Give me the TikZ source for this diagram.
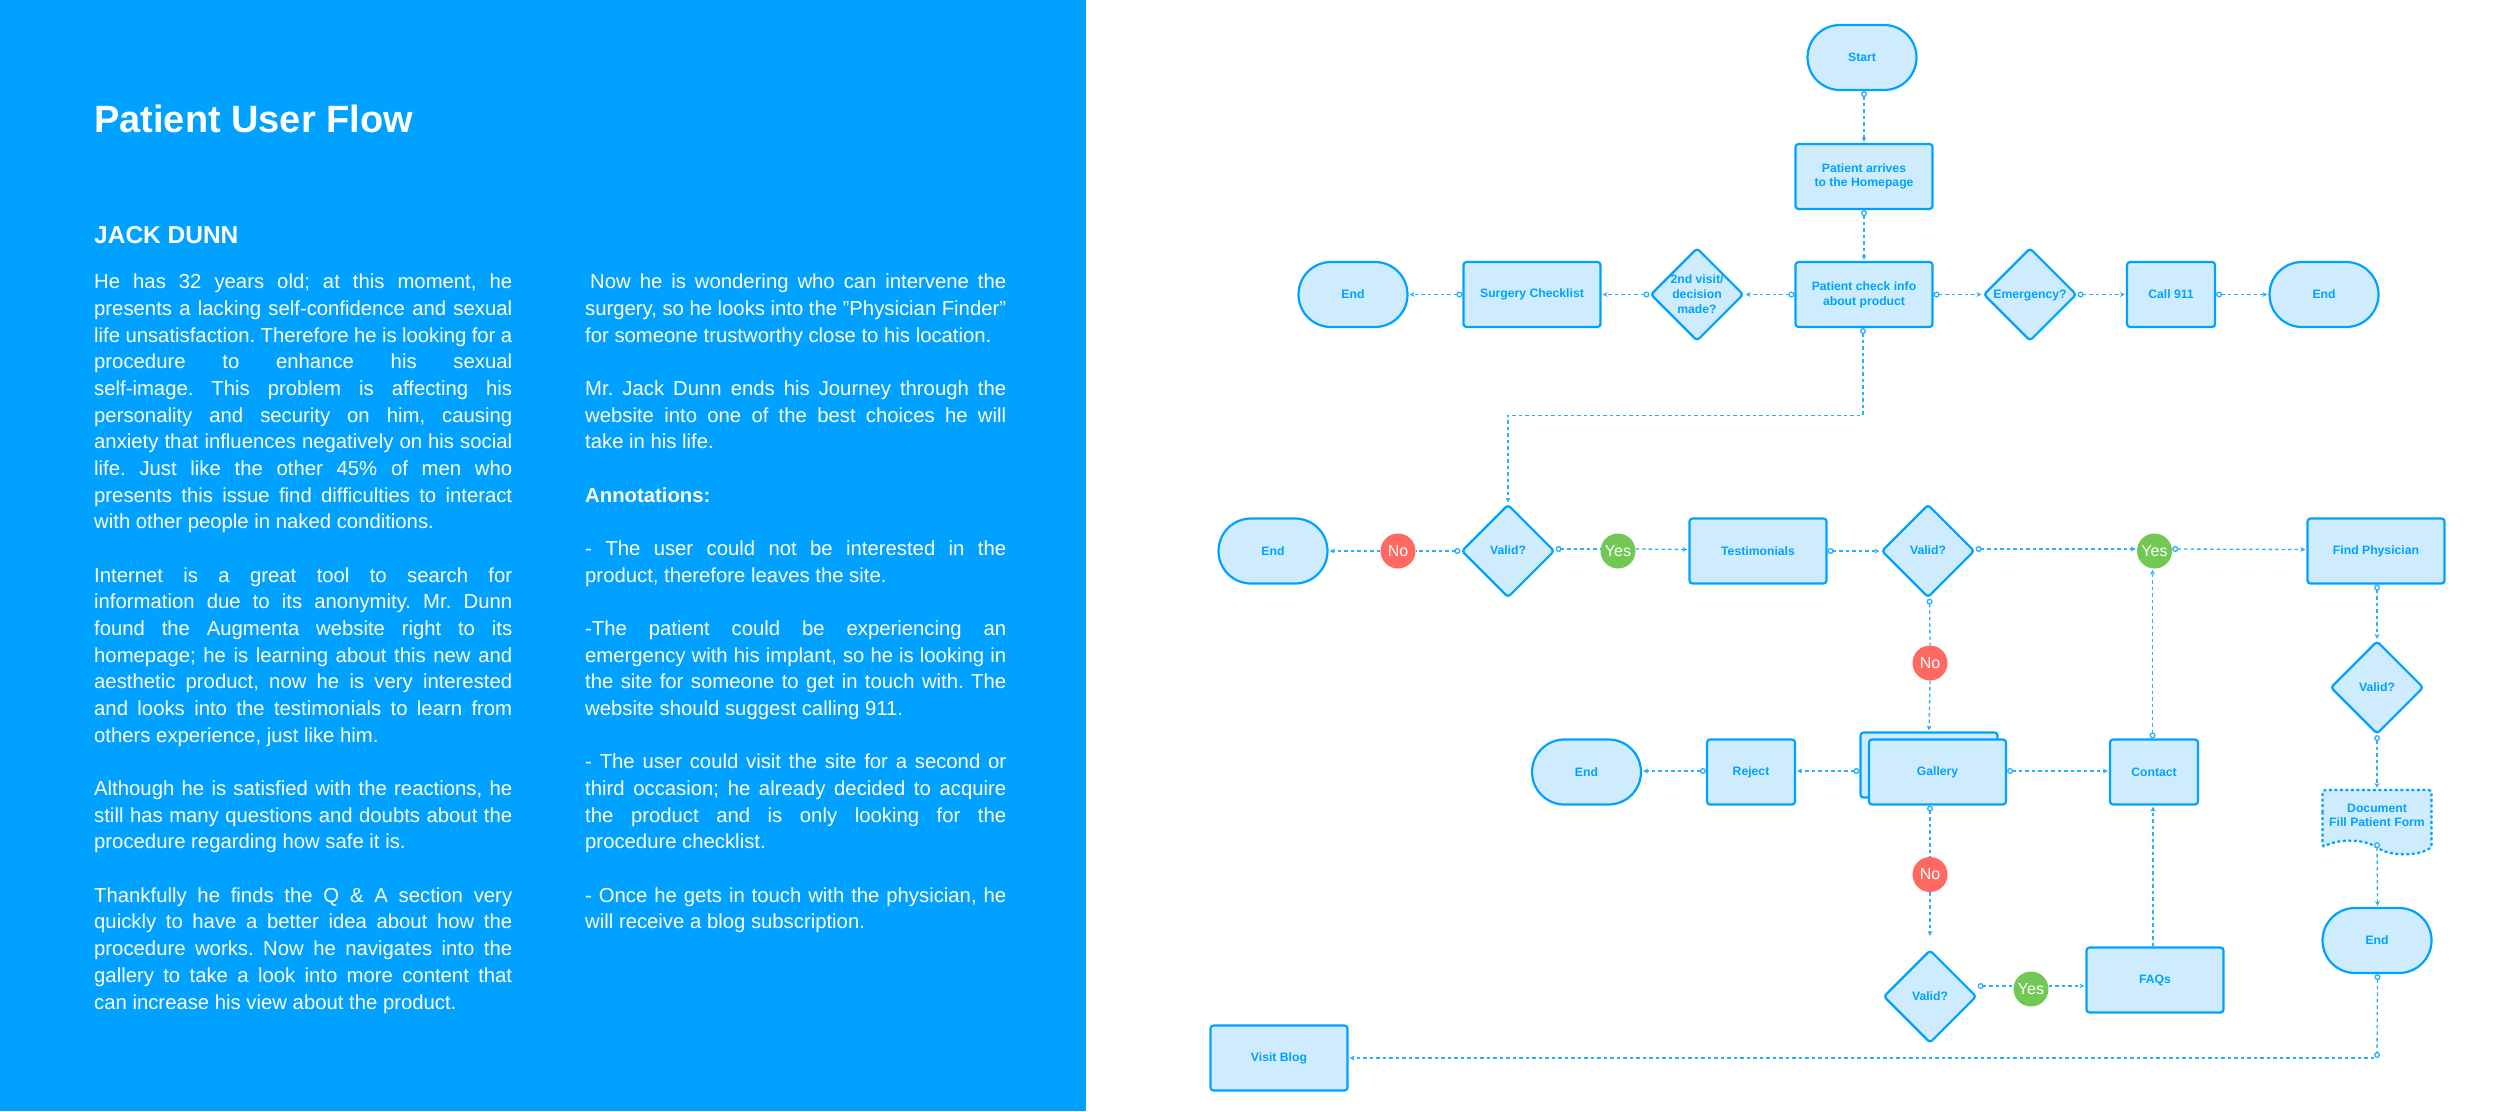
\documentclass[tikz,border=0pt]{standalone}
\usepackage{fontspec}
\setmainfont{Liberation Sans}
\usetikzlibrary{arrows.meta,shapes.geometric,shapes.misc,shapes.symbols}

\definecolor{panelblue}{HTML}{00A1FF}
\definecolor{flowblue}{HTML}{00A2FF}
\definecolor{flowline}{HTML}{2AAEFF}
\definecolor{flowfill}{HTML}{CFECFF}
\definecolor{nored}{HTML}{FF6961}
\definecolor{yesgreen}{HTML}{72C855}

\newcommand{\flowfont}{\fontsize{12.2}{14.7}\bfseries\selectfont}
\newcommand{\difftext}[1]{\makebox[0pt][c]{\raisebox{-4pt}[0pt][0pt]{\begin{tabular}[c]{@{}c@{}}#1\end{tabular}}}}
\newcommand{\paragap}{\par\vspace{26.67pt}}

\tikzstyle{process}=[rectangle, rounded corners = 3pt, draw = flowblue, line width = 2.2pt, fill = flowfill, text = flowblue, font = \flowfont, minimum width = 137pt, minimum height = 65pt, align = center, inner sep = 0pt]
\tikzstyle{smallprocess}=[process, minimum width = 88pt]
\tikzstyle{terminal}=[rounded rectangle, draw = flowblue, line width = 2.2pt, fill = flowfill, text = flowblue, font = \flowfont, minimum width = 109pt, minimum height = 65pt, inner sep = 0pt]
\tikzstyle{decision}=[diamond, aspect = 1, rounded corners = 3pt, draw = flowblue, line width = 2.2pt, fill = flowfill, text = flowblue, font = \flowfont, minimum width = 93pt, minimum height = 93pt, inner sep = 0pt]
\tikzstyle{document}=[tape, tape bend top = none, tape bend bottom = out and in, tape bend height = 13pt, rounded corners = 3pt, draw = flowblue, line width = 2.2pt, dash pattern = on 3pt off 2.5pt, fill = flowfill, text = flowblue, font = \flowfont, minimum width = 109pt, minimum height = 64pt, align = center, inner sep = 0pt]
\tikzstyle{answerno}=[circle, fill = nored, text = white, font = \fontsize{16}{16}\selectfont, minimum size = 35pt, inner sep = 0pt]
\tikzstyle{answeryes}=[answerno, fill = yesgreen]
\tikzstyle{flowline}=[line width = 1.3pt, draw = flowline, dash pattern = on 3.5pt off 3pt]
\tikzstyle{arrow1}=[flowline, {Circle[open, fill = white, length = 6pt, width = 6pt]}-{Stealth[length = 5pt, width = 5pt]}, shorten > = 1pt]
\tikzstyle{arrow2}=[flowline, -{Stealth[length = 5pt, width = 5pt]}, shorten > = 1pt]
\tikzstyle{arrow3}=[flowline, {Circle[open, fill = white, length = 6pt, width = 6pt]}-]
\tikzstyle{arrow4}=[flowline, {Circle[open, fill = white, length = 6pt, width = 6pt]}-{Circle[open, fill = white, length = 6pt, width = 6pt]}]
\tikzstyle{heading}=[text = white, font = \fontsize{38}{40}\bfseries\selectfont, anchor = base west, inner sep = 0pt]
\tikzstyle{subheading}=[heading, font = \fontsize{24.5}{26}\bfseries\selectfont]
\tikzstyle{bodytext}=[text = white, text width = 418pt, align = justify, anchor = north west, inner sep = 0pt, font = \fontsize{20.3}{26.67}\selectfont, execute at begin node = {\frenchspacing\tolerance=10000 \hbadness=10000 \hyphenpenalty=10000 \exhyphenpenalty=10000 }]

\begin{document}
\begin{tikzpicture}[x = 1pt, y = 1pt, node distance = 140pt]
\useasboundingbox (0,0) rectangle (2500,-1111);
\fill[panelblue] (0,0) rectangle (1086,-1111);
\node (title) [heading] at (94,-132) {Patient User Flow};
\node (persona) [subheading] at (94,-243) {JACK DUNN};
\node (leftcolumn) [bodytext] at (94,-274) {He has 32 years old; at this moment, he\linebreak
presents a lacking self-confidence and sexual\linebreak
life unsatisfaction. Therefore he is looking for a\linebreak
procedure to enhance his sexual\linebreak
self-image. This problem is affecting his\linebreak
personality and security on him, causing\linebreak
anxiety that influences negatively on his social\linebreak
life. Just like the other 45\% of men who\linebreak
presents this issue find difficulties to interact\linebreak
with other people in naked conditions.\paragap
Internet is a great tool to search for\linebreak
information due to its anonymity. Mr. Dunn\linebreak
found the Augmenta website right to its\linebreak
homepage; he is learning about this new and\linebreak
aesthetic product, now he is very interested\linebreak
and looks into the testimonials to learn from\linebreak
others experience, just like him.\paragap
Although he is satisfied with the reactions, he\linebreak
still has many questions and doubts about the\linebreak
procedure regarding how safe it is.\paragap
Thankfully he finds the Q \& A section very\linebreak
quickly to have a better idea about how the\linebreak
procedure works. Now he navigates into the\linebreak
gallery to take a look into more content that\linebreak
can increase his view about the product.};
\node (rightcolumn) [bodytext, text width = 421pt] at (585,-274) {\hspace*{5pt}Now he is wondering who can intervene the\linebreak
surgery, so he looks into the "Physician Finder"\linebreak
for someone trustworthy close to his location.\paragap
Mr. Jack Dunn ends his Journey through the\linebreak
website into one of the best choices he will\linebreak
take in his life.\paragap
\textbf{Annotations:}\paragap
- The user could not be interested in the\linebreak
product, therefore leaves the site.\paragap
-The patient could be experiencing an\linebreak
emergency with his implant, so he is looking in\linebreak
the site for someone to get in touch with. The\linebreak
website should suggest calling 911.\paragap
- The user could visit the site for a second or\linebreak
third occasion; he already decided to acquire\linebreak
the product and is only looking for the\linebreak
procedure checklist.\paragap
- Once he gets in touch with the physician, he\linebreak
will receive a blog subscription.};

\node (start) [terminal] at (1862,-57.5) {Start};
\node (arrives) [process, below of = start, xshift = 2pt, node distance = 119pt] {Patient arrives\\to the Homepage};
\node (checkinfo) [process, below of = arrives, node distance = 118pt] {Patient check info\\about product};
\node (revisit) [decision, left of = checkinfo, node distance = 167pt] {\difftext{2nd visit/\\decision\\made?}};
\node (surgery) [process, left of = revisit, node distance = 165pt] {Surgery Checklist};
\node (endsurgery) [terminal, left of = surgery, node distance = 179pt] {End};
\node (emergency) [decision, right of = checkinfo, node distance = 166pt] {\difftext{Emergency?}};
\node (call) [smallprocess, right of = emergency, node distance = 141pt] {Call 911};
\node (endcall) [terminal, right of = call, node distance = 153pt] {End};

\node (validinfo) [decision, below of = checkinfo, xshift = -356pt, node distance = 256.5pt] {\difftext{Valid?}};
\node (noinfo) [answerno, left of = validinfo, node distance = 110pt] {No};
\node (endinfo) [terminal, left of = noinfo, node distance = 125pt] {End};
\node (yesinfo) [answeryes, right of = validinfo, node distance = 110pt] {Yes};
\node (testimonials) [process, right of = yesinfo, node distance = 140pt] {Testimonials};
\node (validtest) [decision, right of = testimonials, node distance = 170pt] {\difftext{Valid?}};
\node (yestest) [answeryes, right of = validtest, node distance = 226.5pt] {Yes};
\node (physician) [process, right of = yestest, node distance = 221.5pt] {Find Physician};
\node (validphys) [decision, below of = physician, xshift = 1pt, node distance = 136.5pt] {\difftext{Valid?}};
\node (form) [document, below of = validphys, node distance = 128pt] {Document\\Fill Patient Form};
\node (endform) [terminal, below of = form, node distance = 125pt] {End};
\coordinate (blogturn) at (2377,-1058);
\node (blog) [process, left of = blogturn, node distance = 1098pt] {Visit Blog};

\node (notest) [answerno, below of = validtest, xshift = 2pt, node distance = 112pt] {No};
\node (galleryback) [process, below of = notest, xshift = -1pt, node distance = 102pt] {};
\node (gallery) [process, below of = galleryback, xshift = 8.5pt, node distance = 7pt] {Gallery};
\node (reject) [smallprocess, left of = gallery, node distance = 186.5pt] {Reject};
\node (endreject) [terminal, left of = reject, node distance = 164.5pt] {End};
\node (contact) [smallprocess, right of = gallery, node distance = 216.5pt] {Contact};
\node (nogallery) [answerno, below of = gallery, xshift = -7.5pt, node distance = 102.5pt] {No};
\node (validgallery) [decision, below of = nogallery, node distance = 122pt] {\difftext{Valid?}};
\node (yesgallery) [answeryes, right of = validgallery, yshift = 7.5pt, node distance = 101pt] {Yes};
\node (faqs) [process, right of = yesgallery, yshift = 9pt, node distance = 124pt] {FAQs};

\draw[arrow1] ([xshift = 2pt]start.south) -- (arrives.north);
\draw[arrow1] (arrives.south) -- (checkinfo.north);
\draw[arrow1] (checkinfo.west) -- (revisit.east);
\draw[arrow1] (revisit.west) -- (surgery.east);
\draw[arrow1] (surgery.west) -- (endsurgery.east);
\draw[arrow1] (checkinfo.east) -- (emergency.west);
\draw[arrow1] (emergency.east) -- (call.west);
\draw[arrow1] (call.east) -- (endcall.west);
\draw[arrow1] ([xshift = -1pt]checkinfo.south) |- ([yshift = 88pt]validinfo.north) -- (validinfo.north);
\draw[arrow3] (validinfo.west) -- (noinfo.east);
\draw[arrow2] (noinfo.west) -- (endinfo.east);
\draw[arrow3] ([yshift = 2pt]validinfo.east) -- ([yshift = 2pt]yesinfo.west);
\draw[arrow2] ([yshift = 2pt]yesinfo.east) -- ([yshift = 1.5pt]testimonials.west);
\draw[arrow1] (testimonials.east) -- (validtest.west);
\draw[arrow1] ([yshift = 2pt]validtest.east) -- ([yshift = 2pt]yestest.west);
\draw[arrow1] ([yshift = 2pt]yestest.east) -- ([yshift = 1.5pt]physician.west);
\draw[arrow1] ([xshift = 1pt]physician.south) -- (validphys.north);
\draw[arrow1] (validphys.south) -- (form.north);
\draw[arrow1] (form.south) -- ([xshift = .5pt]endform.north);
\draw[arrow4] ([xshift = .5pt]endform.south) -- (blogturn);
\draw[arrow2] ([xshift = -3pt]blogturn) -- (blog.east);
\draw[arrow3] ([xshift = 1.5pt]validtest.south) -- (notest.north);
\draw[arrow2] (notest.south) -- (galleryback.north);
\draw[arrow1] ([yshift = -6pt]galleryback.west) -- ([yshift = 1pt]reject.east);
\draw[arrow1] ([yshift = 1pt]reject.west) -- ([yshift = 1pt]endreject.east);
\draw[arrow1] ([yshift = 1pt]gallery.east) -- ([yshift = 1pt]contact.west);
\draw[arrow3] ([xshift = -7.5pt]gallery.south) -- (nogallery.north);
\draw[arrow2] (nogallery.south) -- ([yshift = 12pt]validgallery.north);
\draw[arrow3] ([yshift = 10.5pt]validgallery.east) -- ([yshift = 3pt]yesgallery.west);
\draw[arrow2] ([yshift = 3pt]yesgallery.east) -- ([yshift = -6pt]faqs.west);
\draw[arrow2] ([xshift = -2pt]faqs.north) -- ([xshift = -1pt]contact.south);
\draw[arrow1] ([xshift = -1.5pt]contact.north) -- ([xshift = -2pt]yestest.south);
\end{tikzpicture}
\end{document}
